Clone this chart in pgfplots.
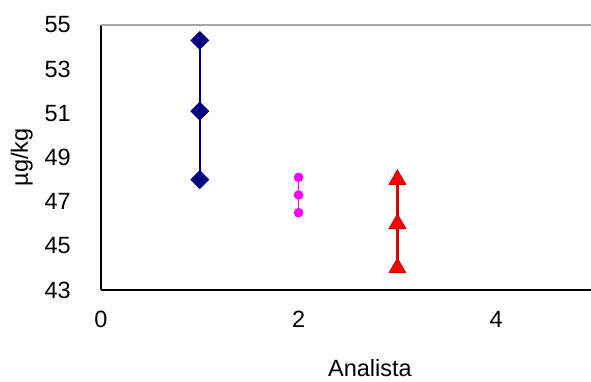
\documentclass[border=0pt]{standalone}
\usepackage{pgfplots}
\pgfplotsset{compat=1.18}
\usepackage{fontspec}
\setmainfont{Liberation Sans}
\definecolor{navyb}{RGB}{0,0,128}
\definecolor{magb}{RGB}{255,0,255}
\definecolor{redf}{RGB}{255,0,0}
\definecolor{redl}{RGB}{210,0,0}
\begin{document}
\fontsize{23.5}{28}\selectfont
\begin{tikzpicture}
\path[use as bounding box] (0,0) rectangle (591pt,381pt);
\begin{axis}[
 at={(101pt,91pt)}, anchor=south west,
 scale only axis, width=494pt, height=265pt,
 xmin=0, xmax=5, ymin=43, ymax=55,
 xtick={0,2,4}, ytick={43,45,...,55},
 axis x line*=bottom, axis y line*=left,
 axis line style={line width=1.8pt, -},
 major tick length=0pt,
 tick label style={font=\fontsize{23.5}{28}\selectfont},
 /pgf/number format/assume math mode=true,
 yticklabel style={inner sep=0pt, anchor=east, xshift=-30pt},
 xticklabel style={inner sep=0pt, anchor=north, yshift=-21pt},
 xlabel={Analista}, ylabel={µg/kg},
 label style={font=\fontsize{23.5}{28}\selectfont},
 xlabel style={at={(axis description cs:0.5445,-0.262)}, anchor=north, inner sep=0pt},
 ylabel style={at={(axis description cs:-0.1377,0.5)}, anchor=south, inner sep=0pt},
 clip=false,
]
\draw[gray!70, line width=1.8pt] (rel axis cs:0,1) -- (rel axis cs:1,1);
\addplot[navyb, line width=2.6pt, mark=square*, mark size=6.2pt, mark options={rotate=45, solid, fill=navyb, line width=1pt}]
 coordinates {(1,54.3) (1,51.1) (1,48.0)};
\addplot[magb, line width=1.5pt, mark=*, mark size=4pt, mark options={fill=magb}]
 coordinates {(2,48.1) (2,47.3) (2,46.5)};
\addplot[redl, line width=2.6pt, mark=triangle*, mark size=9.5pt, mark options={fill=redf, draw=redl, line width=1pt}]
 coordinates {(3,48.0) (3,46.0) (3,44.0)};
\end{axis}
\end{tikzpicture}
\end{document}
